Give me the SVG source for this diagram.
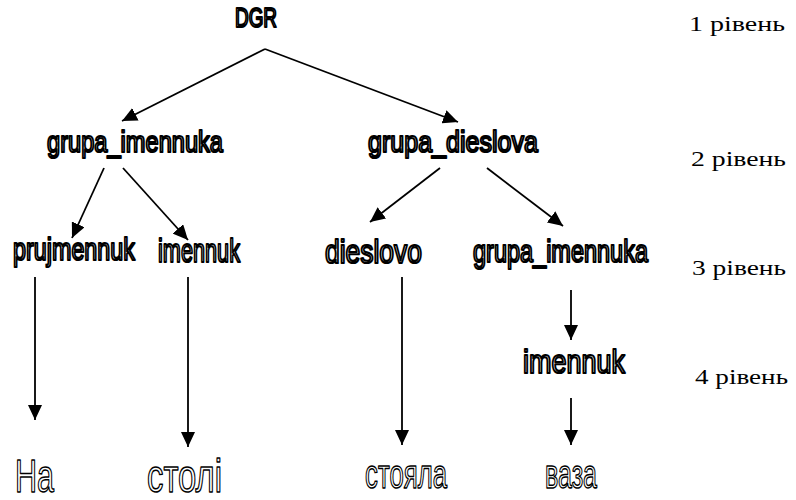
<svg xmlns="http://www.w3.org/2000/svg" width="796" height="500" viewBox="0 0 796 500">
<defs>
<marker id="ah" markerUnits="userSpaceOnUse" markerWidth="16" markerHeight="14" refX="15" refY="7" orient="auto">
<path d="M0,0 L15,7 L0,14 Z" fill="#000"/>
</marker>
<style>
.n{font-family:"Liberation Sans",Arial,sans-serif;fill:#fff;stroke:#000;stroke-width:2.2;stroke-linejoin:round}
.w{font-family:"Liberation Sans",Arial,sans-serif;fill:#fff;stroke:#000;stroke-width:1.5;stroke-linejoin:round}
.lv{font-family:"Liberation Serif","Times New Roman",serif;font-size:21px;fill:#000}
.c{stroke:#000;stroke-width:1.8;fill:none;marker-end:url(#ah)}
</style>
</defs>
<g id="connectors">
<line class="c" x1="265" y1="49" x2="122" y2="121"/>
<line class="c" x1="265" y1="49" x2="458" y2="122"/>
<line class="c" x1="104" y1="168" x2="72" y2="238"/>
<line class="c" x1="123" y1="168" x2="188" y2="240"/>
<line class="c" x1="440" y1="168" x2="370" y2="222"/>
<line class="c" x1="487" y1="168" x2="563" y2="226"/>
<line class="c" x1="35" y1="277" x2="35" y2="420"/>
<line class="c" x1="188" y1="277" x2="188" y2="447"/>
<line class="c" x1="402" y1="277" x2="402" y2="445"/>
<line class="c" x1="571" y1="290" x2="571" y2="340"/>
<line class="c" x1="571" y1="398" x2="571" y2="445"/>
</g>
<g id="DGR"><text class="n" x="235" y="27" font-size="27" textLength="42" lengthAdjust="spacingAndGlyphs">DGR</text></g>
<g id="grupa_imennuka_2"><text class="n" x="47" y="152" font-size="30" textLength="176" lengthAdjust="spacingAndGlyphs">grupa_imennuka</text></g>
<g id="grupa_dieslova"><text class="n" x="368" y="152" font-size="30" textLength="170" lengthAdjust="spacingAndGlyphs">grupa_dieslova</text></g>
<g id="prujmennuk"><text class="n" x="13" y="260" font-size="31" textLength="122" lengthAdjust="spacingAndGlyphs">prujmennuk</text></g>
<g id="imennuk_3"><text class="n" x="158" y="262" font-size="33" textLength="82" lengthAdjust="spacingAndGlyphs">imennuk</text></g>
<g id="dieslovo"><text class="n" x="325" y="263" font-size="33" textLength="97" lengthAdjust="spacingAndGlyphs">dieslovo</text></g>
<g id="grupa_imennuka_3"><text class="n" x="473" y="262" font-size="31" textLength="175" lengthAdjust="spacingAndGlyphs">grupa_imennuka</text></g>
<g id="imennuk_4"><text class="n" x="523" y="373" font-size="34" textLength="102" lengthAdjust="spacingAndGlyphs">imennuk</text></g>
<g id="na"><text class="w" x="15" y="492" font-size="46" textLength="39" lengthAdjust="spacingAndGlyphs">На</text></g>
<g id="stoli"><text class="w" x="147" y="492" font-size="47" textLength="75" lengthAdjust="spacingAndGlyphs">столі</text></g>
<g id="stoiala"><text class="w" x="365" y="488" font-size="41" textLength="82" lengthAdjust="spacingAndGlyphs">стояла</text></g>
<g id="vaza"><text class="w" x="545" y="488" font-size="41" textLength="52" lengthAdjust="spacingAndGlyphs">ваза</text></g>
<g id="levels">
<text class="lv" x="689" y="31" textLength="96" lengthAdjust="spacingAndGlyphs">1 рівень</text>
<text class="lv" x="691" y="166" textLength="95" lengthAdjust="spacingAndGlyphs">2 рівень</text>
<text class="lv" x="692" y="275" textLength="94" lengthAdjust="spacingAndGlyphs">3 рівень</text>
<text class="lv" x="695" y="384" textLength="93" lengthAdjust="spacingAndGlyphs">4 рівень</text>
</g>
</svg>
